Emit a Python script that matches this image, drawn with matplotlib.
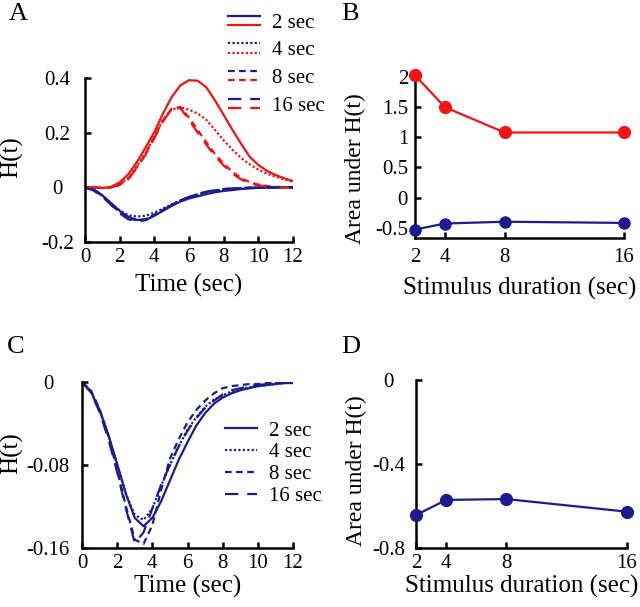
import numpy as np
import matplotlib
matplotlib.use('Agg')
import matplotlib.pyplot as plt
from matplotlib.lines import Line2D
from matplotlib.legend_handler import HandlerBase

plt.rcParams['font.family'] = ['Liberation Serif', 'DejaVu Serif']
plt.rcParams['axes.unicode_minus'] = False

# ---------------- data ----------------
time = np.arange(0, 12.01, 0.5)
labels = ['2 sec', '4 sec', '8 sec', '16 sec']
durations = [2, 4, 8, 16]

# Panel A: red (positive) responses
a_red_2 = [0, 0, -0.003, 0.002, 0.018, 0.048, 0.093, 0.146, 0.202, 0.270, 0.330, 0.373, 0.392,
           0.390, 0.366, 0.318, 0.265, 0.211, 0.160, 0.112, 0.082, 0.060, 0.045, 0.033, 0.023]
a_red_4 = [0, 0, -0.002, 0.0, 0.011, 0.035, 0.078, 0.126, 0.187, 0.247, 0.284, 0.293, 0.284,
           0.270, 0.247, 0.210, 0.172, 0.138, 0.108, 0.084, 0.065, 0.050, 0.039, 0.029, 0.020]
a_red_8 = [0, 0, -0.002, 0.0, 0.009, 0.032, 0.075, 0.123, 0.184, 0.245, 0.288, 0.294, 0.255,
           0.210, 0.165, 0.122, 0.087, 0.057, 0.034, 0.019, 0.010, 0.005, 0.002, 0.001, 0]
a_red_16 = [0, 0, -0.002, 0.0, 0.008, 0.030, 0.072, 0.120, 0.180, 0.241, 0.286, 0.290, 0.247,
            0.200, 0.156, 0.114, 0.080, 0.051, 0.029, 0.015, 0.007, 0.004, 0.001, 0, 0]
# Panel A: blue (negative) responses
a_blue_2 = [0, -0.007, -0.029, -0.058, -0.086, -0.108, -0.119, -0.119, -0.104, -0.086, -0.068, -0.052,
            -0.041, -0.033, -0.025, -0.018, -0.013, -0.010, -0.006, -0.004, -0.002, -0.001, -0.001, 0, 0]
a_blue_4 = [0, -0.008, -0.030, -0.058, -0.085, -0.102, -0.107, -0.104, -0.093, -0.078, -0.062, -0.048,
            -0.036, -0.027, -0.019, -0.013, -0.009, -0.006, -0.004, -0.002, -0.001, -0.001, 0, 0, 0]
a_blue_8 = [0, -0.010, -0.032, -0.062, -0.092, -0.113, -0.121, -0.116, -0.100, -0.082, -0.064, -0.048,
            -0.035, -0.025, -0.017, -0.011, -0.007, -0.004, -0.003, -0.002, -0.001, 0, 0, 0, 0]
a_blue_16 = [0, -0.012, -0.034, -0.064, -0.095, -0.117, -0.125, -0.120, -0.103, -0.084, -0.065, -0.049,
             -0.035, -0.024, -0.016, -0.010, -0.006, -0.004, -0.002, -0.001, -0.001, 0, 0, 0, 0]

# Panel B: area under H(t)
b_red = [2.03, 1.50, 1.08, 1.08]
b_blue = [-0.53, -0.43, -0.40, -0.42]

# Panel C: responses
c_2 = [0, -0.009, -0.027, -0.051, -0.079, -0.108, -0.131, -0.139, -0.131, -0.115, -0.095, -0.075,
       -0.058, -0.042, -0.030, -0.021, -0.015, -0.011, -0.008, -0.006, -0.004, -0.003, -0.002, -0.001, -0.001]
c_4 = [0, -0.009, -0.027, -0.051, -0.080, -0.108, -0.128, -0.133, -0.122, -0.100, -0.080, -0.062,
       -0.046, -0.034, -0.024, -0.017, -0.013, -0.009, -0.007, -0.005, -0.004, -0.003, -0.002, -0.001, -0.001]
c_8 = [0, -0.008, -0.026, -0.052, -0.085, -0.120, -0.152, -0.156, -0.138, -0.104, -0.074, -0.055,
       -0.039, -0.027, -0.018, -0.011, -0.006, -0.004, -0.003, -0.002, -0.002, -0.001, -0.001, 0, 0]
c_16 = [0, -0.010, -0.029, -0.055, -0.087, -0.122, -0.155, -0.145, -0.122, -0.099, -0.080, -0.062,
        -0.047, -0.035, -0.025, -0.018, -0.012, -0.008, -0.006, -0.004, -0.003, -0.002, -0.001, -0.001, 0]

# Panel D: area under H(t)
d_vals = [-0.643, -0.571, -0.567, -0.627]

# ---------------- style ----------------
RED = '#f01414'
BLUE = '#1c1c8c'
LW = 1.6
styles = ['-', (0, (1, 1)), (0, (3, 2)), (0, (6, 4))]
TICK_FS = 15
LABEL_FS = 18
HT_FS = 18
AREA_FS = 17
LETTER_FS = 19
LEG_FS = 15

fig = plt.figure(figsize=(6.4, 6.07), dpi=100)
W, H = 640.0, 607.0


def box(l, r, t, b):
    return [l / W, 1 - b / H, (r - l) / W, (b - t) / H]


def style_axes(ax, xpad, ypad, yha):
    for s in ('top', 'right'):
        ax.spines[s].set_visible(False)
    for s in ('left', 'bottom'):
        ax.spines[s].set_linewidth(1.8)
    ax.tick_params(direction='in', length=4, width=1.8, labelsize=TICK_FS)
    ax.tick_params(axis='x', pad=xpad)
    ax.tick_params(axis='y', pad=ypad)
    for lab in ax.get_yticklabels():
        lab.set_ha(yha)


class PairHandler(HandlerBase):
    def create_artists(self, legend, orig_handle, xdescent, ydescent, width, height, fontsize, trans):
        arts = []
        for h, yf in zip(orig_handle, (0.5 + 0.31, 0.5 - 0.31)):
            y = -ydescent + height * yf
            ln = Line2D([-xdescent, -xdescent + width], [y, y])
            ln.update_from(h)
            ln.set_clip_on(False)
            ln.set_clip_box(None)
            ln.set_clip_path(None)
            ln.set_transform(trans)
            arts.append(ln)
        return arts


# ---------------- Panel A ----------------
axA = fig.add_axes(box(85, 293, 78, 242))
red_A = [a_red_2, a_red_4, a_red_8, a_red_16]
blue_A = [a_blue_2, a_blue_4, a_blue_8, a_blue_16]
pairs = []
for i in range(4):
    lr, = axA.plot(time, red_A[i], color=RED, lw=LW, linestyle=styles[i])
    lb, = axA.plot(time, blue_A[i], color=BLUE, lw=LW, linestyle=styles[i])
    pairs.append((lb, lr))
axA.set_xlim(0, 12)
axA.set_ylim(-0.2, 0.4)
axA.set_xticks([0, 2, 4, 6, 8, 10, 12])
axA.set_yticks([-0.2, 0, 0.2, 0.4])
axA.set_yticklabels(['-0.2', '0', '0.2', '0.4'])
style_axes(axA, 4.5, 20, 'center')
axA.set_xlabel('Time (sec)', fontsize=LABEL_FS, labelpad=5)
axA.set_ylabel('H(t)', fontsize=HT_FS)
axA.yaxis.set_label_coords(-0.295, 0.52)
fig.legend(pairs, labels, handler_map={tuple: PairHandler()}, loc='upper left',
           bbox_to_anchor=(228 / W, 1 - 13 / H), frameon=False, fontsize=LEG_FS,
           borderpad=0, borderaxespad=0, handlelength=1.55, handletextpad=0.55,
           labelspacing=0.39, handleheight=0.7)

# ---------------- Panel B ----------------
axB = fig.add_axes(box(415, 624, 74, 238))
axB.plot(durations, b_red, color=RED, lw=LW, marker='o', ms=8.5, clip_on=False, zorder=3)
axB.plot(durations, b_blue, color=BLUE, lw=LW, marker='o', ms=8, clip_on=False, zorder=3)
axB.set_xlim(2, 16)
axB.set_ylim(-0.67, 2.05)
axB.set_xticks(durations)
axB.set_yticks([-0.5, 0, 0.5, 1, 1.5, 2])
axB.set_yticklabels(['-0.5', '0', '0.5', '1', '1.5', '2'])
style_axes(axB, 7, 5, 'right')
axB.set_xlabel('Stimulus duration (sec)', fontsize=LABEL_FS, labelpad=7)
axB.set_ylabel('Area under H(t)', fontsize=AREA_FS)
axB.yaxis.set_label_coords(-0.234, 0.42)

# ---------------- Panel C ----------------
axC = fig.add_axes(box(82, 293, 382, 548))
c_list = [c_2, c_4, c_8, c_16]
c_lines = []
for i in range(4):
    ln, = axC.plot(time, c_list[i], color=BLUE, lw=LW, linestyle=styles[i])
    c_lines.append(ln)
axC.set_xlim(0, 12)
axC.set_ylim(-0.16, 0)
axC.set_xticks([0, 2, 4, 6, 8, 10, 12])
axC.set_yticks([-0.16, -0.08, 0])
axC.set_yticklabels(['-0.16', '-0.08', '0'])
style_axes(axC, 4.5, 24.5, 'center')
axC.set_xlabel('Time (sec)', fontsize=LABEL_FS, labelpad=1)
axC.set_ylabel('H(t)', fontsize=HT_FS)
axC.yaxis.set_label_coords(-0.278, 0.57)
axC.legend(c_lines, labels, loc='upper left', bbox_to_anchor=(225 / W, 1 - 421 / H),
           bbox_transform=fig.transFigure, frameon=False, fontsize=LEG_FS,
           borderpad=0, borderaxespad=0, handlelength=1.55, handletextpad=0.55,
           labelspacing=0.11)

# ---------------- Panel D ----------------
axD = fig.add_axes(box(416, 627, 380, 548))
axD.plot(durations, d_vals, color=BLUE, lw=LW, marker='o', ms=8.5, clip_on=False, zorder=3)
axD.set_xlim(2, 16)
axD.set_ylim(-0.8, 0)
axD.set_xticks(durations)
axD.set_yticks([-0.8, -0.4, 0])
axD.set_yticklabels(['-0.8', '-0.4', '0'])
style_axes(axD, 4.5, 19.5, 'center')
axD.set_xlabel('Stimulus duration (sec)', fontsize=LABEL_FS, labelpad=1)
axD.set_ylabel('Area under H(t)', fontsize=AREA_FS)
axD.yaxis.set_label_coords(-0.232, 0.46)

# ---------------- panel letters ----------------
for letter, x, y in (('A', 9, 3), ('B', 341, 3), ('C', 7, 336), ('D', 341, 336)):
    fig.text(x / W, 1 - y / H, letter, fontsize=LETTER_FS, va='top', ha='left')

fig.savefig('out.png', dpi=100)
